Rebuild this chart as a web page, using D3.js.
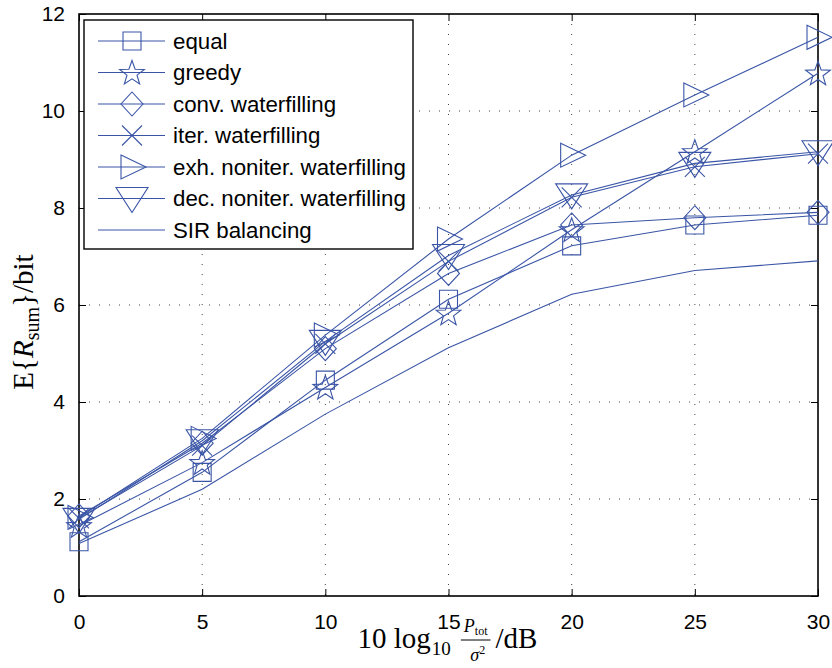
<!DOCTYPE html>
<html><head><meta charset="utf-8">
<script src="https://cdn.jsdelivr.net/npm/d3@7"></script>
<style>body{margin:0;background:#fff}svg{display:block}</style>
</head><body>
<svg id="c" width="832" height="668"></svg>
<script>
const xValues = [0, 5, 10, 15, 20, 25, 30];
const seriesNames = ["equal","greedy","conv. waterfilling","iter. waterfilling","exh. noniter. waterfilling","dec. noniter. waterfilling","SIR balancing"];
const markerTypes = ["square","star","diamond","x","triRight","triDown","none"];
const equalVals  = [1.12, 2.55, 4.45, 6.12, 7.22, 7.65, 7.85];
const greedyVals = [1.45, 2.75, 4.30, 5.83, 7.55, 9.16, 10.78];
const convVals   = [1.65, 3.15, 5.10, 6.65, 7.65, 7.80, 7.91];
const iterVals   = [1.60, 3.10, 5.20, 6.90, 8.22, 8.85, 9.12];
const exhVals    = [1.62, 3.25, 5.38, 7.36, 9.09, 10.33, 11.52];
const decVals    = [1.58, 3.20, 5.25, 7.02, 8.27, 8.92, 9.16];
const sirVals    = [1.08, 2.20, 3.75, 5.12, 6.22, 6.71, 6.91];
const xTicks = [0, 5, 10, 15, 20, 25, 30];
const yTicks = [0, 2, 4, 6, 8, 10, 12];
const allSeries = [equalVals, greedyVals, convVals, iterVals, exhVals, decVals, sirVals];

const color = "#3a55a6";
const svg = d3.select("#c");
const L = 79, R = 818, T = 14, B = 596;
const x = d3.scaleLinear().domain([0, 30]).range([L, R]);
const y = d3.scaleLinear().domain([0, 12]).range([B, T]);

// grid
const grid = svg.append("g");
xTicks.slice(1, -1).forEach(t => grid.append("line").attr("x1", x(t)).attr("x2", x(t)).attr("y1", T).attr("y2", B)
  .attr("stroke", "#444").attr("stroke-width", 1).attr("stroke-dasharray", "1,9"));
yTicks.slice(1, -1).forEach(t => grid.append("line").attr("y1", y(t)).attr("y2", y(t)).attr("x1", L).attr("x2", R)
  .attr("stroke", "#444").attr("stroke-width", 1).attr("stroke-dasharray", "1,9"));

// axes
const fontAx = "'Liberation Sans', Arial, sans-serif";
const gx = svg.append("g").attr("transform", `translate(0,${B})`).call(d3.axisBottom(x).tickValues(xTicks).tickSize(-7).tickPadding(18));
const gxt = svg.append("g").attr("transform", `translate(0,${T})`).call(d3.axisTop(x).tickValues(xTicks).tickSize(-7).tickFormat(""));
const gy = svg.append("g").attr("transform", `translate(${L},0)`).call(d3.axisLeft(y).tickValues(yTicks).tickSize(-7).tickPadding(14));
const gyr = svg.append("g").attr("transform", `translate(${R},0)`).call(d3.axisRight(y).tickValues(yTicks).tickSize(-7).tickFormat(""));
[gx, gxt, gy, gyr].forEach(g => {
  g.select(".domain").remove();
  g.selectAll("line").attr("stroke", "#000").attr("stroke-width", 1);
  g.selectAll("text").attr("font-family", fontAx).attr("font-size", 21).attr("fill", "#000");
});
gx.selectAll("text").attr("dy", "0.71em");
svg.append("rect").attr("x", L).attr("y", T).attr("width", R - L).attr("height", B - T)
  .attr("fill", "none").attr("stroke", "#000").attr("stroke-width", 1.6);

// markers
function markerPath(type) {
  switch (type) {
    case "square": return "M-9,-9H9V9H-9Z";
    case "diamond": return "M0,-12L11,0L0,12L-11,0Z";
    case "x": return "M-10,-10L10,10M-10,10L10,-10";
    case "triRight": return "M-11,-12L14,0L-11,12Z";
    case "triDown": return "M-16,-11L16,-11L0,14Z";
    case "star": {
      const pts = [];
      for (let i = 0; i < 10; i++) {
        const r = i % 2 === 0 ? 13 : 5.3;
        const a = -Math.PI / 2 + i * Math.PI / 5;
        pts.push([r * Math.cos(a), r * Math.sin(a) + 1]);
      }
      return "M" + pts.map(p => p.join(",")).join("L") + "Z";
    }
    default: return null;
  }
}

const line = d3.line().x((d, i) => x(xValues[i])).y(d => y(d));
const plot = svg.append("g");
allSeries.forEach((vals, si) => {
  plot.append("path").attr("d", line(vals)).attr("fill", "none").attr("stroke", color).attr("stroke-width", 1.1);
  const mp = markerPath(markerTypes[si]);
  if (mp) {
    plot.selectAll(null).data(vals).enter().append("path")
      .attr("d", mp).attr("transform", (d, i) => `translate(${x(xValues[i])},${y(d)})`)
      .attr("fill", "none").attr("stroke", color).attr("stroke-width", 1.1);
  }
});

// legend
const lg = svg.append("g");
lg.append("rect").attr("x", 84).attr("y", 20).attr("width", 329).attr("height", 229)
  .attr("fill", "#fff").attr("stroke", "#000").attr("stroke-width", 1.4);
seriesNames.forEach((name, i) => {
  const cy = 41 + i * 31.5;
  lg.append("line").attr("x1", 98).attr("x2", 165).attr("y1", cy).attr("y2", cy).attr("stroke", color).attr("stroke-width", 1.1);
  const mp = markerPath(markerTypes[i]);
  if (mp) lg.append("path").attr("d", mp).attr("transform", `translate(132,${cy})`).attr("fill", "none").attr("stroke", color).attr("stroke-width", 1.1);
  lg.append("text").attr("x", 173).attr("y", cy).attr("dy", "0.35em").attr("font-family", fontAx).attr("font-size", 21).attr("fill", "#000").text(name);
});
{
  const texts = lg.selectAll("text").nodes();
  const maxW = d3.max(texts, n => n.getComputedTextLength());
  const fs = 21 * 233 / maxW;
  lg.selectAll("text").attr("font-size", Math.min(fs, 23));
}

// y label
const serif = "'Liberation Serif', 'DejaVu Serif', serif";
const yl = svg.append("text").attr("transform", "translate(33,322) rotate(-90)").attr("text-anchor", "middle")
  .attr("font-family", serif).attr("font-size", 29).attr("fill", "#000");
yl.append("tspan").text("E{");
yl.append("tspan").attr("font-style", "italic").text("R");
yl.append("tspan").attr("font-size", 20).attr("dy", 6).text("sum");
yl.append("tspan").attr("dy", -6).text("}/bit");

// x label built piecewise, then centered
const xl = svg.append("g").attr("font-family", serif).attr("fill", "#000");
const base = 648;
const t1 = xl.append("text").attr("x", 0).attr("y", base).attr("font-size", 29).text("10 log");
let cx = t1.node().getComputedTextLength() + 1;
const t2 = xl.append("text").attr("x", cx).attr("y", base + 7).attr("font-size", 19).text("10");
cx += t2.node().getComputedTextLength() + 10;
const num = xl.append("text").attr("y", 632).attr("text-anchor", "middle").attr("font-size", 18);
num.append("tspan").attr("font-style", "italic").text("P");
num.append("tspan").attr("font-size", 12).attr("dy", 3).text("tot");
const numW = num.node().getComputedTextLength();
const fracW = numW + 6;
num.attr("x", cx + fracW / 2);
xl.append("line").attr("x1", cx).attr("x2", cx + fracW).attr("y1", 640).attr("y2", 640).attr("stroke", "#000").attr("stroke-width", 1);
const den = xl.append("text").attr("x", cx + fracW / 2 + 2).attr("y", 661).attr("text-anchor", "middle").attr("font-size", 18);
den.append("tspan").attr("font-style", "italic").text("σ");
den.append("tspan").attr("font-size", 12).attr("dy", -7).text("2");
cx += fracW + 5;
const t3 = xl.append("text").attr("x", cx).attr("y", base).attr("font-size", 29).text("/dB");
cx += t3.node().getComputedTextLength();
xl.attr("transform", `translate(${447.5 - cx / 2},0)`);
</script>
</body></html>
